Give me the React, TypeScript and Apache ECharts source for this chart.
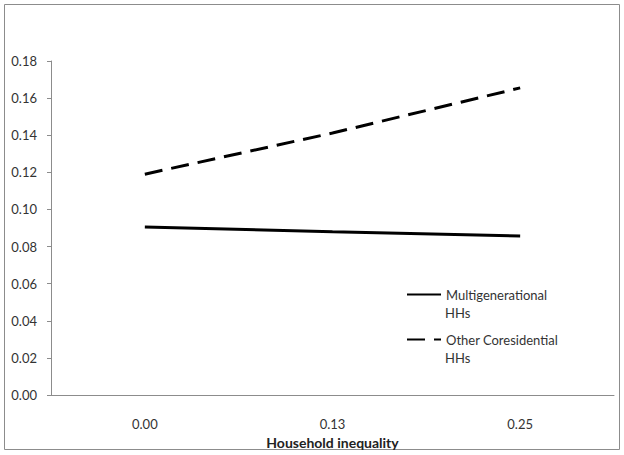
import React, { useEffect, useRef } from "react";
import * as echarts from "echarts";

const categories = ["0.00", "0.13", "0.25"];
const multigenerational = [0.0905, 0.088, 0.0857];
const otherCoresidential = [0.119, 0.1412, 0.1655];
const yTicks = { min: 0, max: 0.18, interval: 0.02 };
const xAxisName = "Household inequality";
const seriesNames = ["Multigenerational HHs", "Other Coresidential HHs"];
const legendFirstLines = ["Multigenerational", "Other Coresidential"];
const legendSecondLine = "HHs";

const FONT = "Lato";

export default function App() {
  const ref = useRef<HTMLDivElement>(null);
  useEffect(() => {
    document.body.style.margin = "0";
    const chart = echarts.init(ref.current!, undefined, { renderer: "svg" });
    chart.setOption({
      animation: false,
      backgroundColor: "#ffffff",
      textStyle: { fontFamily: FONT },
      grid: { left: 51, right: 10, top: 61, bottom: 60, containLabel: false },
      graphic: [
        {
          type: "rect",
          shape: { x: 4.5, y: 4.5, width: 615, height: 445 },
          style: { fill: "none", stroke: "#8c8c8c", lineWidth: 1 },
          silent: true,
          z: 0,
        },
        {
          type: "text",
          x: 445,
          y: 313,
          style: {
            text: legendSecondLine,
            fontFamily: FONT,
            fontSize: 13,
            fill: "#333",
            verticalAlign: "middle",
          },
        },
        {
          type: "text",
          x: 445,
          y: 358,
          style: {
            text: legendSecondLine,
            fontFamily: FONT,
            fontSize: 13,
            fill: "#333",
            verticalAlign: "middle",
          },
        },
      ],
      legend: {
        orient: "vertical",
        left: 401,
        top: 281,
        itemWidth: 34,
        itemHeight: 12,
        itemGap: 28,
        itemStyle: { opacity: 0 },
        textStyle: { fontFamily: FONT, fontSize: 13, color: "#333", lineHeight: 17 },
        formatter: (name: string) => legendFirstLines[seriesNames.indexOf(name)],
        data: seriesNames,
      },
      xAxis: {
        type: "category",
        data: categories,
        boundaryGap: true,
        name: xAxisName,
        nameLocation: "middle",
        nameGap: 40,
        nameTextStyle: { fontFamily: FONT, fontSize: 14, fontWeight: "bold", color: "#222" },
        axisLine: { lineStyle: { color: "#8c8c8c", width: 1 } },
        axisTick: { show: false },
        axisLabel: { fontFamily: FONT, fontSize: 13, color: "#333", margin: 22 },
      },
      yAxis: {
        type: "value",
        min: yTicks.min,
        max: yTicks.max,
        interval: yTicks.interval,
        axisLine: { show: true, lineStyle: { color: "#8c8c8c", width: 1 } },
        axisTick: { show: true, length: 4, lineStyle: { color: "#8c8c8c" } },
        splitLine: { show: false },
        axisLabel: {
          fontFamily: FONT,
          fontSize: 13,
          color: "#333",
          margin: 14,
          formatter: (v: number) => v.toFixed(2),
        },
      },
      series: [
        {
          name: seriesNames[0],
          type: "line",
          data: multigenerational,
          symbol: "none",
          lineStyle: { color: "#000", width: 3, type: "solid" },
          itemStyle: { color: "#000" },
        },
        {
          name: seriesNames[1],
          type: "line",
          data: otherCoresidential,
          symbol: "none",
          lineStyle: { color: "#000", width: 3, type: [18, 9] },
          itemStyle: { color: "#000" },
        },
      ],
    });
    return () => chart.dispose();
  }, []);
  return <div ref={ref} style={{ width: 624, height: 455 }} />;
}
